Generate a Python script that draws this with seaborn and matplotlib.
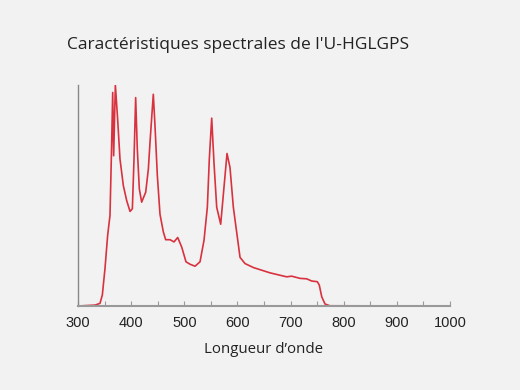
import matplotlib
matplotlib.use("Agg")
import matplotlib.pyplot as plt
from matplotlib import font_manager
import seaborn as sns
import pandas as pd
from matplotlib.ticker import MultipleLocator

wavelength = [300, 332, 341.4, 345.8, 350.8, 355.8, 360.2, 363.4, 365.3, 367.1, 370.3,
              374.6, 379, 385.3, 391.6, 397.9, 402.3, 405.4, 408.5, 411.6, 415.4, 419.8,
              427.4, 432.4, 435.5, 437.4, 441.7, 444.9, 449.3, 454.3, 460.6, 465, 473.1,
              480.7, 487.6, 495.1, 503.2, 510.8, 520.2, 529.6, 537.1, 543.4, 547.1, 551.6,
              556, 561, 568.5, 574.7, 580.4, 586, 592.3, 599.8, 604.9, 614.3, 630, 661.3,
              692.7, 702, 717.8, 730.3, 739.8, 750.3, 754, 758.6, 764.8, 774, 1000]
intensity = [0, 0.4, 1.2, 5, 17, 32, 41, 74, 96.6, 68, 100,
             84.5, 66.5, 54.5, 47.7, 42.8, 44, 66.5, 94.3, 71, 53, 47,
             51.5, 62, 74, 80.8, 95.8, 81.5, 59, 41.5, 33.5, 30, 30,
             29, 31, 26.7, 20, 18.9, 18, 20, 29.7, 44.7, 66.5, 85,
             64.3, 44.7, 37, 53.7, 69, 62.7, 44.7, 31.2, 22, 19.2, 17.4, 15,
             13.2, 13.5, 12.5, 12.3, 11.3, 11, 9.5, 4.2, 0.9, 0.1, 0]
xticks = [300, 400, 500, 600, 700, 800, 900, 1000]
title = "Caractéristiques spectrales de l'U-HGLGPS"
xlabel = "Longueur d’onde"

df = pd.DataFrame({"wl": wavelength, "I": intensity})

sns.set_theme(style="white")
plt.rcParams['font.family'] = ['Open Sans', 'DejaVu Sans']
bg = "#f2f2f2"
fig = plt.figure(figsize=(5.2, 3.9), dpi=100, facecolor=bg)
ax = fig.add_axes([78/520, 84/390, 372/520, 221/390])
ax.set_facecolor(bg)

sns.lineplot(data=df, x="wl", y="I", ax=ax, color="#d8323f", linewidth=1.2)

ax.set_xlim(300, 1000)
ax.set_ylim(0, 100)
ax.set_yticks([])
ax.set_xticks(xticks)
ax.xaxis.set_minor_locator(MultipleLocator(50))

names = {f.name for f in font_manager.fontManager.ttflist}
if "Liberation Sans Narrow" in names:
    tick_family, tick_size = ['Liberation Sans Narrow', 'DejaVu Sans'], 11.5
else:
    tick_family, tick_size = ['Liberation Sans', 'DejaVu Sans'], 10.5

ax.tick_params(axis="x", which="both", bottom=True, direction="in", length=3.5, width=0.8,
               color="#999999", pad=7, labelsize=tick_size, labelcolor="#222222")
for lab in ax.get_xticklabels():
    lab.set_family(tick_family)

for s in ["top", "right"]:
    ax.spines[s].set_visible(False)
ax.spines["left"].set_color("#888888")
ax.spines["left"].set_linewidth(1.0)
ax.spines["bottom"].set_color("#999999")
ax.spines["bottom"].set_linewidth(1.5)

ax.set_xlabel(xlabel, fontsize=10.8, color="#222222", labelpad=9)
ax.set_ylabel("")
fig.text(67/520, 1 - 45/390, title, fontsize=12.5, color="#222222",
         ha="left", va="center")

fig.savefig("out.png", dpi=100, facecolor=bg)
